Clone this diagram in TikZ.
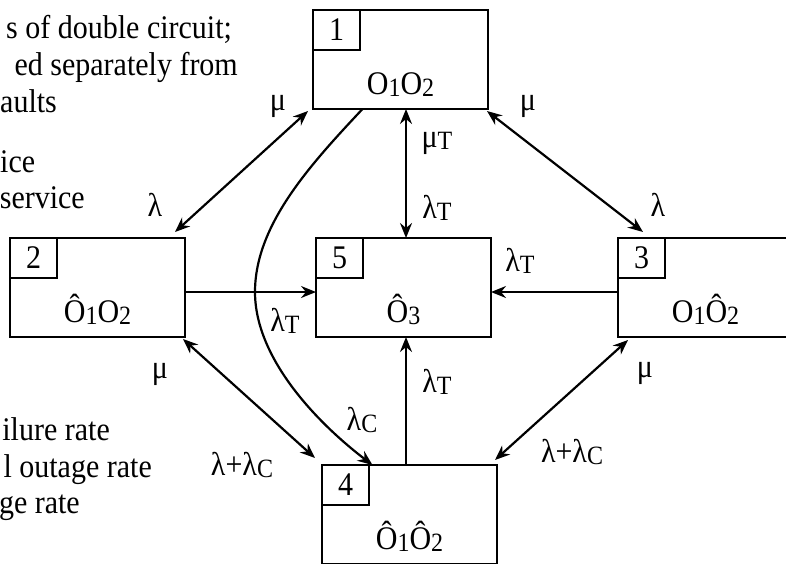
\documentclass[tikz,border=0pt]{standalone}
\usepackage{fontspec}
\usepackage{graphicx}
\setmainfont{Liberation Serif}
\usetikzlibrary{arrows.meta,calc}
\newcommand\mysub[1]{\raisebox{-2pt}{\fontsize{24}{24}\selectfont #1}}
\newcommand\vs[1]{\scalebox{1}[1.1]{#1}}
\begin{document}
\begin{tikzpicture}[x=1pt,y=-1pt,
  >={Stealth[length=15pt,width=12pt,inset=5pt]},
  state/.style={draw,line width=1.8pt,minimum width=175pt,minimum height=99pt,anchor=north west,inner sep=0pt,outer sep=0pt},
  numbox/.style={draw,line width=1.8pt,minimum width=47pt,minimum height=40pt,anchor=north west,inner sep=0pt,outer sep=0pt,font=\fontsize{30}{36}\selectfont},
  txt/.style={font=\fontsize{30}{36}\selectfont,inner sep=0pt,anchor=base},
  side/.style={font=\fontsize{30}{36}\selectfont,inner sep=0pt,anchor=base east},
  sidew/.style={font=\fontsize{30}{36}\selectfont,inner sep=0pt,anchor=base west},
  conn/.style={line width=2.2pt,->},
  dconn/.style={line width=2.2pt,<->}]
\useasboundingbox (0,0) rectangle (786,563);
\clip (0,0) rectangle (786,563);
% side texts
\node[sidew] (s1) at (6,38) {\vs{s of double circuit;}};
\node[side] (s2) at (238,75) {\vs{ed separately from}};
\node[sidew] (s3) at (0,112) {\vs{aults}};
\node[sidew] (s4) at (0,172) {\vs{ice}};
\node[side] (s5) at (85,208) {\vs{service}};
\node[side] (s6) at (110,440) {\vs{ilure rate}};
\node[side] (s7) at (152,477) {\vs{l outage rate}};
\node[side] (s8) at (80,513) {\vs{ge rate}};
% states
\node[state] (b1) at (313,10) {};
\node[numbox] (n1) at (313,10) {\vs{1}};
\node[txt] (t1) at ($(b1.north)+(0,84)$) {\vs{O\mysub{1}O\mysub{2}}};
\node[state] (b2) at (10,238) {};
\node[numbox] (n2) at (10,238) {\vs{2}};
\node[txt] (t2) at ($(b2.north)+(0,84)$) {\vs{Ô\mysub{1}O\mysub{2}}};
\node[state] (b5) at (316,238) {};
\node[numbox] (n5) at (316,238) {\vs{5}};
\node[txt] (t5) at ($(b5.north)+(0,84)$) {\vs{Ô\mysub{3}}};
\node[state] (b3) at (618,238) {};
\node[numbox] (n3) at (618,238) {\vs{3}};
\node[txt] (t3) at ($(b3.north)+(0,84)$) {\vs{O\mysub{1}Ô\mysub{2}}};
\node[state] (b4) at (322,465) {};
\node[numbox] (n4) at (322,465) {\vs{4}};
\node[txt] (t4) at ($(b4.north)+(0,84)$) {\vs{Ô\mysub{1}Ô\mysub{2}}};
% helper coordinates
\coordinate (vx) at (406,0);
\coordinate (hy) at (0,292);
\coordinate (cm) at (255,292);
% connectors
\draw[dconn] ([shift={(-10,-6)}]b2.north east) -- ([shift={(-5,2)}]b1.south west);
\draw[dconn] ([shift={(-1,2)}]b1.south east) -- ([shift={(25,-6)}]b3.north west);
\draw[dconn] ([shift={(-2,2)}]b2.south east) -- ([shift={(-7,-7)}]b4.north west);
\draw[dconn] ([shift={(10,3)}]b3.south west) -- ([shift={(-2,-5)}]b4.north east);
\draw[dconn] (b1.south -| vx) -- (b5.north -| vx);
\draw[conn] (b4.north -| vx) -- (b5.south -| vx);
\draw[conn] (b2.east |- hy) -- (b5.west |- hy);
\draw[conn] (b3.west |- hy) -- (b5.east |- hy);
\draw[conn] ([xshift=-38pt]b1.south) .. controls (310,165) and (255,225) .. (cm)
  .. controls (255,360) and (320,425) .. ([xshift=-37pt]b4.north);
% labels
\node[txt] (m12) at (278,110) {\vs{μ}};
\node[txt] (l12) at (155,216) {\vs{λ}};
\node[txt] (m13) at (528,110) {\vs{μ}};
\node[txt] (l13) at (658,216) {\vs{λ}};
\node[txt] (mT) at (437,147) {\vs{μ\mysub{T}}};
\node[txt] (lT15) at (437,218) {\vs{λ\mysub{T}}};
\node[txt] (lT35) at (520,271) {\vs{λ\mysub{T}}};
\node[txt] (lTc) at (285,331) {\vs{λ\mysub{T}}};
\node[txt] (lT45) at (437,392) {\vs{λ\mysub{T}}};
\node[txt] (m24) at (160,378) {\vs{μ}};
\node[txt] (lc24) at (242,475) {\vs{λ+λ\mysub{C}}};
\node[txt] (lC) at (362,430) {\vs{λ\mysub{C}}};
\node[txt] (m34) at (645,377) {\vs{μ}};
\node[txt] (lc34) at (572,462) {\vs{λ+λ\mysub{C}}};
\end{tikzpicture}
\end{document}
